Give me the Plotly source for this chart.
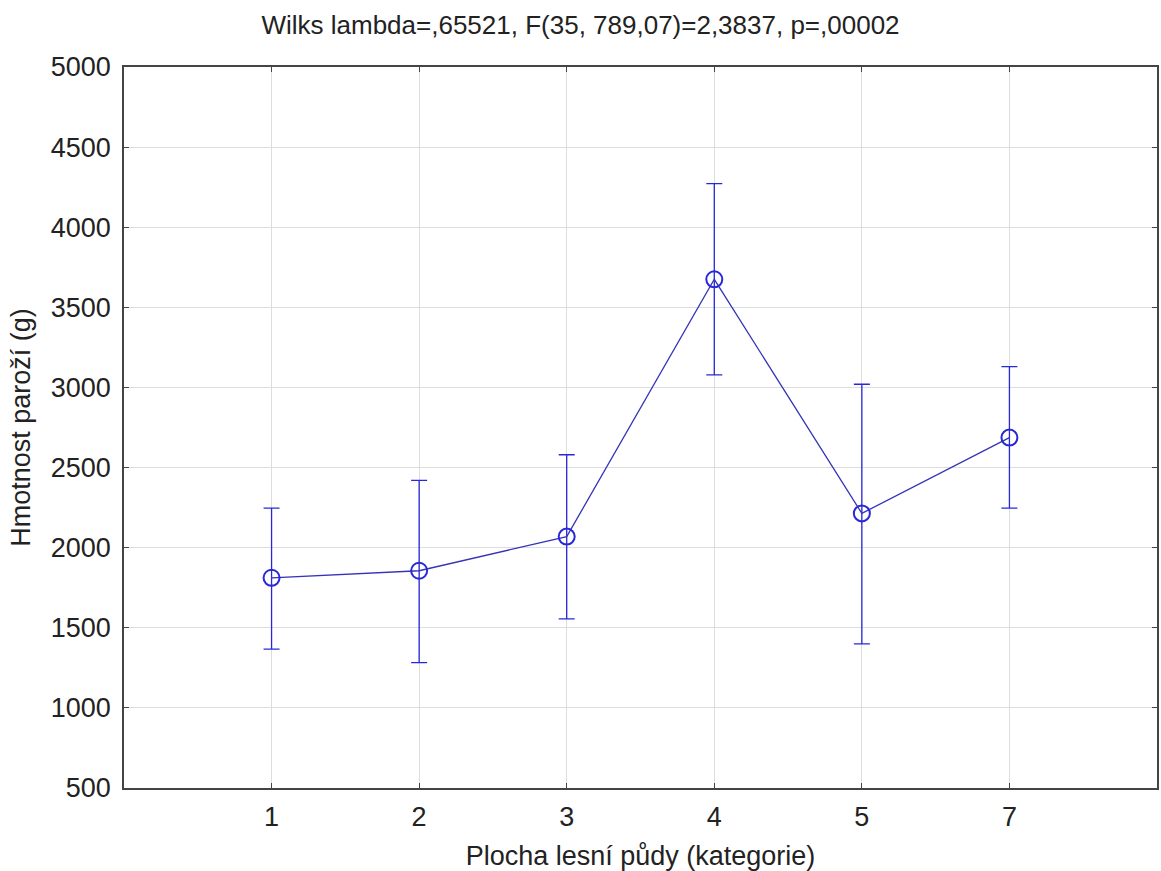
import plotly.graph_objects as go

categories = ["1", "2", "3", "4", "5", "7"]
means = [1812, 1856, 2069, 3675, 2214, 2687]
upper = [2247, 2420, 2580, 4272, 3020, 3130]
lower = [1367, 1282, 1555, 3078, 1400, 2247]

xpos = list(range(1, len(categories) + 1))
err_plus = [u - m for u, m in zip(upper, means)]
err_minus = [m - l for m, l in zip(means, lower)]

blue = "#2828d8"

fig = go.Figure()
fig.add_trace(go.Scatter(
    x=xpos, y=means, mode="lines+markers",
    line=dict(color="#3434b8", width=1.3),
    marker=dict(symbol="circle-open", size=16, color=blue, line=dict(width=2, color=blue)),
    error_y=dict(type="data", symmetric=False, array=err_plus, arrayminus=err_minus,
                 color=blue, thickness=1.3, width=8),
    showlegend=False,
))

font = "Liberation Sans, Arial, sans-serif"
fig.update_layout(
    width=1161, height=871,
    margin=dict(l=124, r=2, t=67, b=83),
    paper_bgcolor="white", plot_bgcolor="white",
    font=dict(family=font, size=27, color="#222222"),
    title=dict(text="Wilks lambda=,65521, F(35, 789,07)=2,3837, p=,00002",
               x=0.5, xref="container", xanchor="center",
               y=0.971, yref="container", yanchor="middle",
               font=dict(size=26, family=font, color="#222222")),
    xaxis=dict(range=[0, 7], tickmode="array", tickvals=xpos, ticktext=categories,
               showgrid=True, gridcolor="#dddddd", gridwidth=1,
               showline=True, linecolor="#444444", linewidth=1.5, mirror="ticks",
               ticks="inside", ticklen=5, tickcolor="#444444",
               ticklabelstandoff=4,
               tickfont=dict(size=27, family=font),
               zeroline=False,
               title=dict(text="Plocha lesní půdy (kategorie)", standoff=16,
                          font=dict(size=27, family=font))),
    yaxis=dict(range=[500, 5000], tickmode="linear", tick0=500, dtick=500,
               showgrid=True, gridcolor="#dddddd", gridwidth=1,
               showline=True, linecolor="#444444", linewidth=1.5, mirror="ticks",
               ticks="inside", ticklen=5, tickcolor="#444444",
               ticklabelstandoff=6,
               tickfont=dict(size=27, family=font),
               zeroline=False,
               title=dict(text="Hmotnost paroží (g)", standoff=12,
                          font=dict(size=27, family=font))),
)
fig.write_html("out.html")
